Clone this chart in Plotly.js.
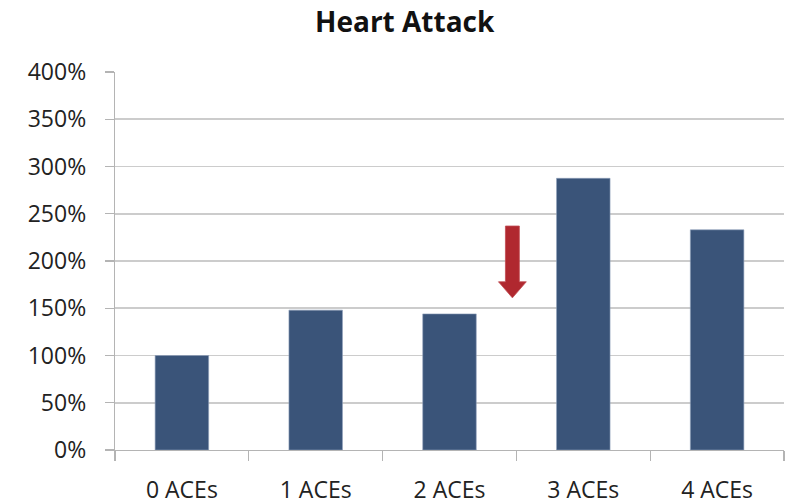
<!DOCTYPE html>
<html>
<head>
<meta charset="utf-8">
<script src="https://cdn.plot.ly/plotly-3.0.1.min.js"></script>
<style>html,body{margin:0;padding:0;background:#fff;}#chart{width:790px;height:504px;}</style>
</head>
<body>
<div id="chart"></div>
<script>
var categories = ["0 ACEs", "1 ACEs", "2 ACEs", "3 ACEs", "4 ACEs"];
var values = [100, 148, 144, 287.5, 233];
var yTicks = [0, 50, 100, 150, 200, 250, 300, 350, 400];
var titleText = "Heart Attack";
// red arrow marker between "2 ACEs" and "3 ACEs"
var arrowX = 2.47;       // category index position
var arrowTop = 237;      // percent
var arrowHeadStart = 178;
var arrowTip = 161;

var shaftHalf = 0.052, headHalf = 0.104;
var arrowPath = "M " + (arrowX - shaftHalf) + "," + arrowTop +
  " L " + (arrowX + shaftHalf) + "," + arrowTop +
  " L " + (arrowX + shaftHalf) + "," + arrowHeadStart +
  " L " + (arrowX + headHalf) + "," + arrowHeadStart +
  " L " + arrowX + "," + arrowTip +
  " L " + (arrowX - headHalf) + "," + arrowHeadStart +
  " L " + (arrowX - shaftHalf) + "," + arrowHeadStart + " Z";

var font = "'Open Sans', 'Noto Sans', sans-serif";

var data = [{
  type: "bar",
  x: categories,
  y: values,
  marker: {color: "#3a5479", line: {color: "#8ea0bb", width: 0.6}},
  hoverinfo: "none"
}];

var layout = {
  width: 790, height: 504,
  margin: {l: 114.5, r: 5.5, t: 72, b: 54},
  paper_bgcolor: "#ffffff",
  plot_bgcolor: "#ffffff",
  showlegend: false,
  bargap: 0.6,
  title: {
    text: "<b>" + titleText + "</b>",
    font: {family: font, size: 28, color: "#111111"},
    x: 0.433, xref: "paper", xanchor: "center",
    y: 0.955, yref: "container", yanchor: "middle"
  },
  xaxis: {
    type: "category",
    showgrid: false,
    showline: true, linecolor: "#b4b4b4", linewidth: 1.2,
    ticks: "outside", ticklen: 10, tickcolor: "#b4b4b4", tickwidth: 1.2,
    tickson: "boundaries",
    tickfont: {family: font, size: 23, color: "#222222"},
    ticklabelstandoff: 19,
    range: [-0.5, 4.5],
    fixedrange: true
  },
  yaxis: {
    range: [0, 400],
    tickvals: yTicks,
    ticktext: yTicks.map(function(v){return v + "%";}),
    showgrid: true, gridcolor: "#cccccc", gridwidth: 1.6,
    showline: true, linecolor: "#b4b4b4", linewidth: 1.2,
    ticks: "outside", ticklen: 9, tickcolor: "#b4b4b4", tickwidth: 1.2,
    tickfont: {family: font, size: 23, color: "#222222"},
    ticklabelstandoff: 14,
    zeroline: false,
    fixedrange: true
  },
  shapes: [{
    type: "path", xref: "x", yref: "y",
    path: arrowPath,
    fillcolor: "#b0282f",
    line: {width: 0.8, color: "#c04a50"}
  }]
};

Plotly.newPlot("chart", data, layout, {displayModeBar: false, staticPlot: true});
</script>
</body>
</html>
